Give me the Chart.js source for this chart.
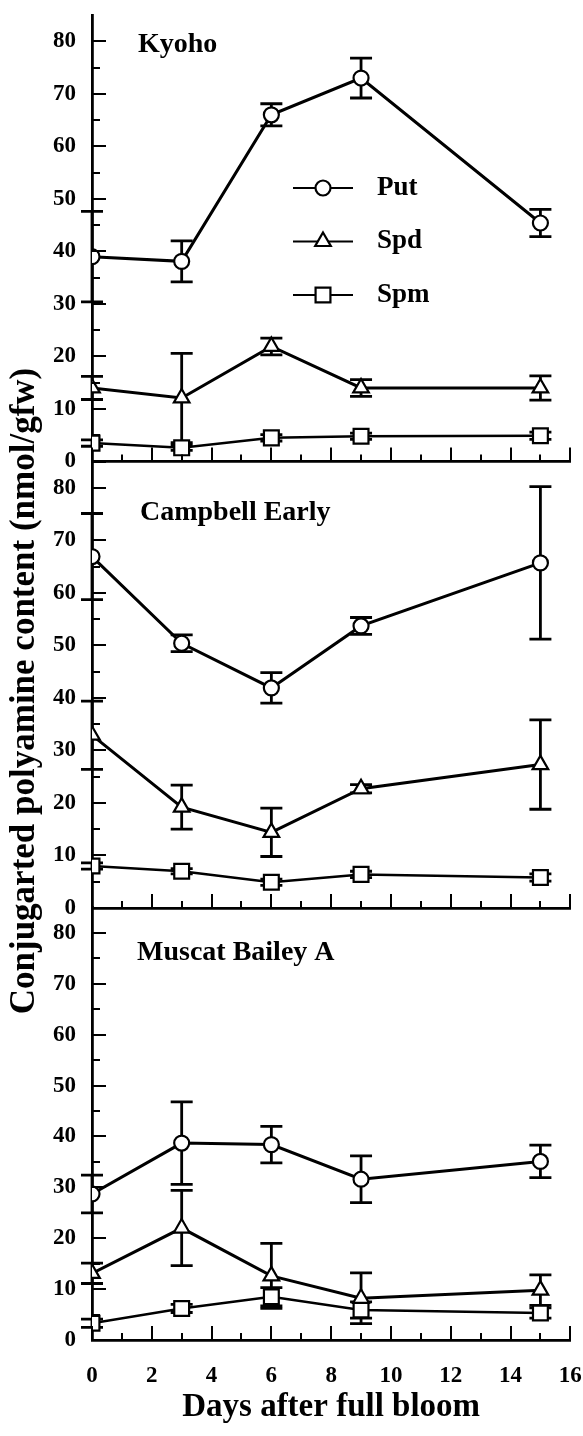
<!DOCTYPE html>
<html><head><meta charset="utf-8">
<script src="https://cdn.jsdelivr.net/npm/chart.js@4.4.1/dist/chart.umd.min.js"></script>
<style>
html,body{margin:0;padding:0;background:#fff;}
#wrap{position:relative;width:583px;height:1436px;overflow:hidden;}
canvas{position:absolute;left:0;top:0;}
</style></head><body>
<div id="wrap">
<canvas id="c1" width="583" height="1436"></canvas>
<canvas id="c2" width="583" height="1436"></canvas>
<canvas id="c3" width="583" height="1436"></canvas>
</div>
<script>
// ---------- data ----------
const days = [0, 3, 6, 9, 15];
const seriesNames = ['Put', 'Spd', 'Spm'];
const panelTitles = ['Kyoho', 'Campbell Early', 'Muscat Bailey A'];
const yAxisTitle = 'Conjugarted polyamine content (nmol/gfw)';
const xAxisTitle = 'Days after full bloom';

const kyohoPut    = [39.0, 38.1, 66.0, 73.0, 45.4];
const kyohoPutErr = [8.6, 3.9, 2.1, 3.8, 2.6];
const kyohoSpd    = [14.0, 12.1, 21.9, 14.0, 14.0];
const kyohoSpdErr = [2.2, 8.5, 1.6, 1.6, 2.3];
const kyohoSpm    = [3.5, 2.6, 4.5, 4.8, 4.9];
const kyohoSpmErr = [0.6, 0.5, 0.6, 0.6, 0.7];

const campPut    = [66.9, 50.4, 41.9, 53.7, 65.7];
const campPutErr = [8.2, 1.6, 2.9, 1.6, 14.5];
const campSpd    = [32.9, 19.2, 14.4, 22.7, 27.3];
const campSpdErr = [6.5, 4.2, 4.6, 0.8, 8.5];
const campSpm    = [8.0, 7.0, 4.9, 6.4, 5.8];
const campSpmErr = [0.6, 0.5, 0.6, 0.6, 0.7];

const muscPut    = [28.7, 38.7, 38.4, 31.6, 35.1];
const muscPutErr = [3.7, 8.1, 3.6, 4.6, 3.2];
const muscSpd    = [13.1, 22.0, 12.6, 8.2, 9.8];
const muscSpdErr = [2.0, 7.4, 6.4, 5.0, 3.0];
const muscSpm    = [3.3, 6.2, 8.5, 5.9, 5.3];
const muscSpmErr = [0.8, 0.8, 1.8, 1.6, 1.0];

const yTickValues  = [0, 10, 20, 30, 40, 50, 60, 70, 80];
const yMinorValues = [5, 15, 25, 35, 45, 55, 65, 75];
const xTickValues  = [0, 2, 4, 6, 8, 10, 12, 14, 16];
const xMinorValues = [1, 3, 5, 7, 9, 11, 13, 15];

// ---------- styling ----------
const FONT = '"Liberation Serif", "Times New Roman", serif';
const pointStyles = ['circle', 'triangle', 'rect'];
const pointRadii  = [7.5, 9, 10.5];
const lineWidths  = [3, 3, 2.5];

const errorBarPlugin = {
  id: 'errorBars',
  beforeDatasetsDraw(chart) {
    const ctx = chart.ctx, xs = chart.scales.x, ys = chart.scales.y;
    ctx.save();
    ctx.strokeStyle = '#000';
    ctx.lineWidth = 2.8;
    chart.data.datasets.forEach(ds => {
      if (!ds.errors) return;
      ds.data.forEach((p, i) => {
        const e = ds.errors[i];
        const x = xs.getPixelForValue(p.x);
        const yt = ys.getPixelForValue(p.y + e);
        const yb = ys.getPixelForValue(Math.max(0, p.y - e));
        ctx.beginPath();
        ctx.moveTo(x, yt); ctx.lineTo(x, yb);
        ctx.moveTo(x - 11, yt); ctx.lineTo(x + 11, yt);
        ctx.moveTo(x - 11, yb); ctx.lineTo(x + 11, yb);
        ctx.stroke();
      });
    });
    ctx.restore();
  }
};

const tickMarkPlugin = {
  id: 'tickMarks',
  afterDraw(chart) {
    const ctx = chart.ctx, xs = chart.scales.x, ys = chart.scales.y;
    const a = chart.chartArea;
    ctx.save();
    ctx.strokeStyle = '#000';
    ctx.lineWidth = 2;
    ctx.beginPath();
    yTickValues.forEach(v => { const y = Math.round(ys.getPixelForValue(v)); ctx.moveTo(a.left, y); ctx.lineTo(a.left + 14, y); });
    yMinorValues.forEach(v => { const y = Math.round(ys.getPixelForValue(v)); ctx.moveTo(a.left, y); ctx.lineTo(a.left + 8, y); });
    xTickValues.forEach(v => { const x = Math.round(xs.getPixelForValue(v)); ctx.moveTo(x, a.bottom); ctx.lineTo(x, a.bottom - 14); });
    xMinorValues.forEach(v => { const x = Math.round(xs.getPixelForValue(v)); ctx.moveTo(x, a.bottom); ctx.lineTo(x, a.bottom - 7); });
    ctx.stroke();
    ctx.restore();
  }
};

const textPlugin = {
  id: 'panelText',
  afterDraw(chart, args, opts) {
    const ctx = chart.ctx;
    ctx.save();
    ctx.fillStyle = '#000';
    ctx.font = 'bold 28px ' + FONT;
    ctx.textAlign = 'left';
    ctx.textBaseline = 'alphabetic';
    ctx.fillText(opts.title, opts.titleX, opts.titleY);
    if (opts.legend) {
      chart.data.datasets.forEach((ds, i) => {
        const y = 188 + i * 53.5;
        ctx.strokeStyle = '#000';
        ctx.lineWidth = 2.2;
        ctx.beginPath(); ctx.moveTo(293, y); ctx.lineTo(353, y); ctx.stroke();
        ctx.fillStyle = '#fff';
        Chart.helpers.drawPoint(ctx, {pointStyle: ds.pointStyle, radius: ds.pointRadius, rotation: 0, borderWidth: 2.2}, 323, y);
        ctx.fillStyle = '#000';
        ctx.font = 'bold 27px ' + FONT;
        ctx.textBaseline = 'middle';
        ctx.fillText(ds.label, 377, y);
      });
    }
    if (opts.yTitle) {
      ctx.translate(25, 691);
      ctx.rotate(-Math.PI / 2);
      ctx.font = 'bold 35px ' + FONT;
      ctx.textAlign = 'center';
      ctx.textBaseline = 'middle';
      ctx.fillText(opts.yTitle, 0, 0);
    }
    ctx.restore();
  }
};

function makePanel(id, area, values, errors, textOpts, showX) {
  const datasets = seriesNames.map((name, k) => ({
    label: name,
    data: days.map((d, i) => ({x: d, y: values[k][i]})),
    errors: errors[k],
    borderColor: '#000',
    borderWidth: lineWidths[k],
    pointStyle: pointStyles[k],
    pointRadius: pointRadii[k],
    pointBackgroundColor: '#fff',
    pointBorderColor: '#000',
    pointBorderWidth: 2.2,
    tension: 0,
    fill: false
  }));
  const tickFont = {family: FONT, weight: 'bold', size: 23};
  return new Chart(document.getElementById(id), {
    type: 'line',
    data: {datasets},
    plugins: [errorBarPlugin, tickMarkPlugin, textPlugin],
    options: {
      responsive: false,
      animation: false,
      devicePixelRatio: 1,
      layout: {padding: {top: area.top, left: 0, right: 583 - area.right, bottom: 0}},
      plugins: {
        legend: {display: false},
        tooltip: {enabled: false},
        panelText: textOpts
      },
      scales: {
        x: {
          type: 'linear', min: 0, max: 16, position: 'bottom',
          grid: {display: false, drawTicks: false},
          border: {display: true, color: '#000', width: 2.8},
          ticks: {display: showX, autoSkip: false, maxRotation: 0, padding: 22, color: '#000', font: tickFont},
          afterBuildTicks: s => { s.ticks = xTickValues.map(v => ({value: v})); },
          afterFit: s => { s.height = 1436 - area.bottom; s.paddingLeft = 0; s.paddingRight = 0; },
          title: {display: showX, text: xAxisTitle, color: '#000', font: {family: FONT, weight: 'bold', size: 33}, padding: {top: 0, bottom: 9}}
        },
        y: {
          type: 'linear', min: 0, max: 85, position: 'left',
          grid: {display: false, drawTicks: false},
          border: {display: true, color: '#000', width: 2.8},
          ticks: {padding: 16, color: '#000', font: tickFont},
          afterBuildTicks: s => { s.ticks = yTickValues.map(v => ({value: v})); },
          afterFit: s => { s.width = area.left; s.paddingTop = 0; s.paddingBottom = 0; }
        }
      }
    }
  });
}

makePanel('c1', {top: 15, bottom: 461.5, left: 92, right: 571},
  [kyohoPut, kyohoSpd, kyohoSpm], [kyohoPutErr, kyohoSpdErr, kyohoSpmErr],
  {title: panelTitles[0], titleX: 138, titleY: 52, legend: true}, false);
makePanel('c2', {top: 461.5, bottom: 908, left: 92, right: 571},
  [campPut, campSpd, campSpm], [campPutErr, campSpdErr, campSpmErr],
  {title: panelTitles[1], titleX: 140, titleY: 520, yTitle: yAxisTitle}, false);
makePanel('c3', {top: 907.5, bottom: 1340, left: 92, right: 571},
  [muscPut, muscSpd, muscSpm], [muscPutErr, muscSpdErr, muscSpmErr],
  {title: panelTitles[2], titleX: 137, titleY: 960}, true);
</script>
</body></html>
